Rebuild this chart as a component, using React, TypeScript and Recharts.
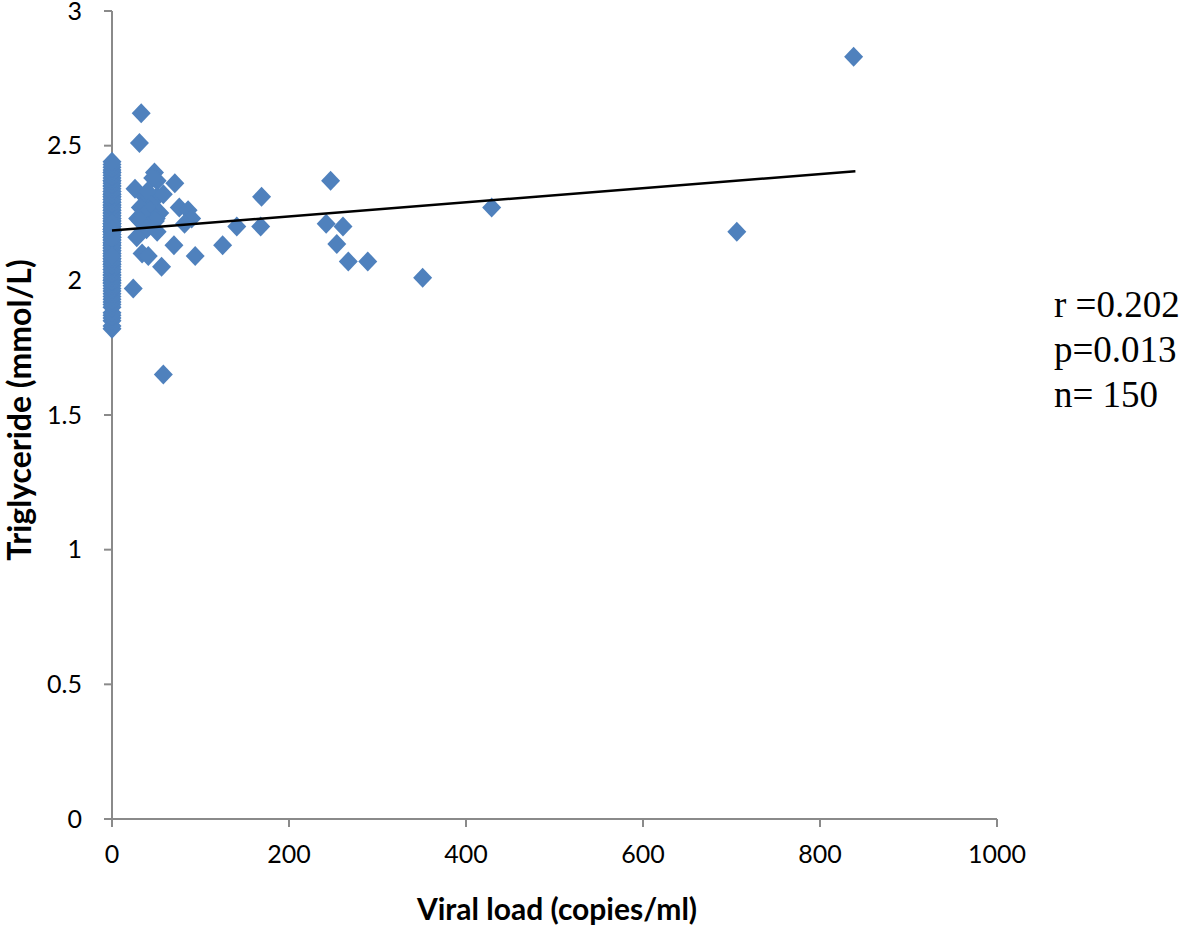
import React from "react";
import { ScatterChart, Scatter, XAxis, YAxis } from "recharts";

// Patients with undetectable / near-zero viral load (x = 0)
const zeroLoadTG = [
  1.82, 1.83, 1.85, 1.86, 1.87, 1.88, 1.9, 1.91, 1.92, 1.93, 1.94, 1.95, 1.96, 1.97, 1.98,
  1.99, 1.99, 2.0, 2.0, 2.01, 2.02, 2.02, 2.03, 2.04, 2.04, 2.05, 2.06, 2.06, 2.07, 2.07,
  2.08, 2.08, 2.09, 2.1, 2.1, 2.11, 2.11, 2.12, 2.12, 2.13, 2.13, 2.14, 2.14, 2.15, 2.15,
  2.16, 2.16, 2.17, 2.17, 2.18, 2.18, 2.18, 2.19, 2.19, 2.2, 2.2, 2.2, 2.21, 2.21, 2.22,
  2.22, 2.23, 2.23, 2.24, 2.24, 2.25, 2.25, 2.26, 2.26, 2.27, 2.27, 2.28, 2.28, 2.29, 2.29,
  2.3, 2.3, 2.31, 2.31, 2.32, 2.32, 2.33, 2.33, 2.34, 2.35, 2.35, 2.36, 2.37, 2.37, 2.38,
  2.39, 2.4, 2.4, 2.41, 2.42, 2.43, 2.44, 2.21, 2.19, 2.16, 2.09,
];

// Patients with detectable viral load
const viralLoad = [
  33, 31, 48, 51, 46, 71, 26, 37, 51, 58, 40, 45, 32, 76, 86, 43, 54, 36, 29, 50, 90, 32, 49,
  82, 41, 39, 51, 28, 70, 34, 41, 94, 56, 24, 58, 125, 141, 168, 169, 242, 247, 254, 261, 267,
  289, 351, 429, 706, 838,
];
const triglyceride = [
  2.62, 2.51, 2.4, 2.37, 2.38, 2.36, 2.34, 2.31, 2.31, 2.32, 2.33, 2.28, 2.27, 2.27, 2.26, 2.26,
  2.25, 2.24, 2.23, 2.23, 2.23, 2.22, 2.22, 2.21, 2.2, 2.19, 2.18, 2.16, 2.13, 2.1, 2.09, 2.09,
  2.05, 1.97, 1.65, 2.13, 2.2, 2.2, 2.31, 2.21, 2.37, 2.135, 2.2, 2.07, 2.07, 2.01, 2.27, 2.18,
  2.83,
];

// Linear trend line end points
const trendX = [0, 840];
const trendY = [2.185, 2.405];

const xTicks = [0, 200, 400, 600, 800, 1000];
const yTicks = [0, 0.5, 1, 1.5, 2, 2.5, 3];
const statsLines = ["r =0.202", "p=0.013", "n= 150"];

const points = [
  ...zeroLoadTG.map((y) => ({ x: 0, y })),
  ...viralLoad.map((x, i) => ({ x, y: triglyceride[i] })),
];
const trend = trendX.map((x, i) => ({ x, y: trendY[i] }));

const BLUE = "#4F81BD";
const AXIS = "#8a8a8a";
const TICK_FONT = "Lato, 'Open Sans', sans-serif";

const Diamond = (props: any) => {
  const { cx, cy } = props;
  if (cx == null || cy == null) return <g />;
  return (
    <path
      d={`M${cx},${cy - 10}L${cx + 9.5},${cy}L${cx},${cy + 10}L${cx - 9.5},${cy}Z`}
      fill={BLUE}
    />
  );
};

const NoShape = () => <g />;

const XTick = (props: any) => {
  const { x, y, payload } = props;
  return (
    <text x={x} y={y + 36} textAnchor="middle" fontFamily={TICK_FONT} fontSize={25} fill="#000">
      {payload.value}
    </text>
  );
};

const YTick = (props: any) => {
  const { x, y, payload } = props;
  return (
    <text
      x={x - 22}
      y={y}
      dy="0.34em"
      textAnchor="end"
      fontFamily={TICK_FONT}
      fontSize={25}
      fill="#000"
    >
      {payload.value}
    </text>
  );
};

export default function App() {
  return (
    <div
      style={{
        position: "absolute",
        left: 0,
        top: 0,
        width: 1181,
        height: 925,
        background: "#fff",
        overflow: "hidden",
      }}
    >
      <ScatterChart
        width={1181}
        height={925}
        margin={{ top: 11, right: 184, left: 0, bottom: 0 }}
      >
        <XAxis
          type="number"
          dataKey="x"
          domain={[0, 1000]}
          ticks={xTicks}
          height={106}
          tickSize={8}
          tickMargin={0}
          axisLine={{ stroke: AXIS, strokeWidth: 2 }}
          tickLine={{ stroke: AXIS, strokeWidth: 2 }}
          tick={<XTick />}
        />
        <YAxis
          type="number"
          dataKey="y"
          domain={[0, 3]}
          ticks={yTicks}
          width={112}
          tickSize={8}
          tickMargin={0}
          axisLine={{ stroke: AXIS, strokeWidth: 2 }}
          tickLine={{ stroke: AXIS, strokeWidth: 2 }}
          tick={<YTick />}
        />
        <Scatter data={points} shape={<Diamond />} isAnimationActive={false} />
        <Scatter
          data={trend}
          line={{ stroke: "#000", strokeWidth: 2.5 }}
          shape={<NoShape />}
          isAnimationActive={false}
        />
      </ScatterChart>
      <svg
        width={1181}
        height={925}
        style={{ position: "absolute", left: 0, top: 0, pointerEvents: "none" }}
      >
        <text
          transform="translate(31, 410) rotate(-90)"
          textAnchor="middle"
          fontFamily={TICK_FONT}
          fontWeight="bold"
          fontSize={32}
          fill="#000"
        >
          Triglyceride (mmol/L)
        </text>
        <text
          x={557}
          y={920}
          textAnchor="middle"
          fontFamily={TICK_FONT}
          fontWeight="bold"
          fontSize={30}
          fill="#000"
        >
          Viral load (copies/ml)
        </text>
        {statsLines.map((s, i) => (
          <text
            key={s}
            x={1054}
            y={317 + i * 45}
            fontFamily="'Liberation Serif', 'DejaVu Serif', serif"
            fontSize={37}
            fill="#000"
          >
            {s}
          </text>
        ))}
      </svg>
    </div>
  );
}
